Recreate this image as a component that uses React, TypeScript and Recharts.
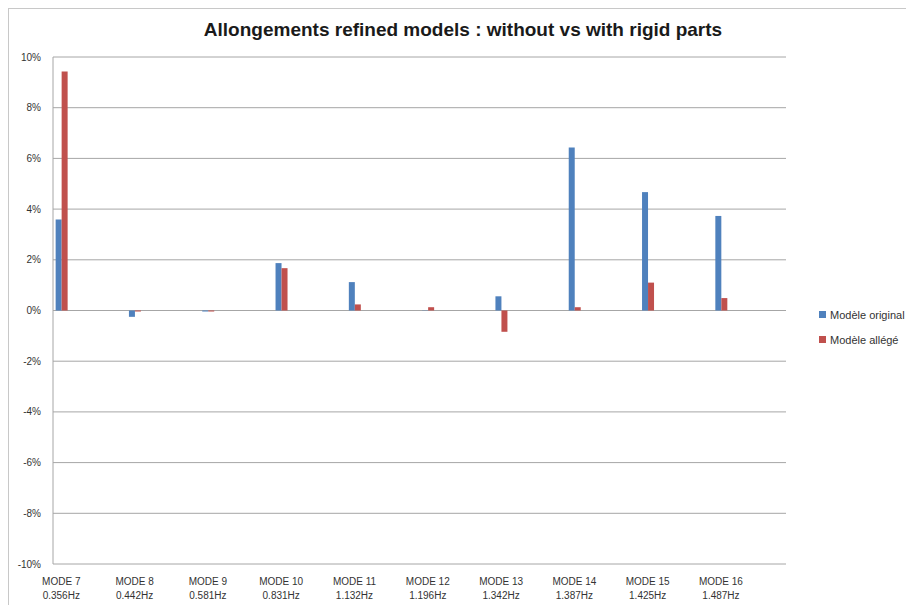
import React from 'react';
import { BarChart, Bar, XAxis, YAxis, CartesianGrid } from 'recharts';

const modes = ['MODE 7', 'MODE 8', 'MODE 9', 'MODE 10', 'MODE 11', 'MODE 12', 'MODE 13', 'MODE 14', 'MODE 15', 'MODE 16'];
const freqs = ['0.356Hz', '0.442Hz', '0.581Hz', '0.831Hz', '1.132Hz', '1.196Hz', '1.342Hz', '1.387Hz', '1.425Hz', '1.487Hz'];
const original = [0.0359, -0.0025, -0.0004, 0.0187, 0.0112, 0.0001, 0.0056, 0.0643, 0.0467, 0.0373];
const allege = [0.0943, -0.0004, -0.0004, 0.0167, 0.0024, 0.0013, -0.0084, 0.0013, 0.011, 0.0049];
const yTicks = [-0.1, -0.08, -0.06, -0.04, -0.02, 0, 0.02, 0.04, 0.06, 0.08, 0.1];
const seriesNames = ['Modèle original', 'Modèle allégé'];
const seriesColors = ['#4F81BD', '#C0504D'];
const title = 'Allongements refined models : without vs with rigid parts';

const data = modes.map((m, i) => ({ idx: i, orig: original[i], alleg: allege[i] }));
const xTicks = modes.map((_, i) => i);

const FONT = '"Liberation Sans", Arial, sans-serif';

const XTick = (props: any) => {
  const { x, y, payload } = props;
  const i = payload.value as number;
  return (
    <g>
      <text x={x} y={y + 21} textAnchor="middle" fontSize={10} fontFamily={FONT} fill="#333">
        {modes[i]}
      </text>
      <text x={x} y={y + 34.5} textAnchor="middle" fontSize={10} fontFamily={FONT} fill="#333">
        {freqs[i]}
      </text>
    </g>
  );
};

export default function App() {
  return (
    <div
      style={{
        position: 'absolute',
        left: 8,
        top: 8,
        width: 898,
        height: 597,
        overflow: 'hidden',
        borderLeft: '1px solid #c8c8c8',
        borderTop: '1px solid #c8c8c8',
        boxSizing: 'border-box',
        background: '#fff',
        fontFamily: FONT,
      }}
    >
      <BarChart
        width={930}
        height={596}
        data={data}
        margin={{ top: 48, right: 153, bottom: 0, left: 0 }}
        barGap={0}
      >
        <CartesianGrid vertical={false} stroke="#a6a6a6" />
        <XAxis
          dataKey="idx"
          type="number"
          domain={[-0.113, 9.887]}
          ticks={xTicks}
          allowDataOverflow
          axisLine={false}
          tickLine={false}
          tickSize={0}
          tickMargin={0}
          height={41}
          interval={0}
          tick={<XTick />}
        />
        <YAxis
          domain={[-0.1, 0.1]}
          ticks={yTicks}
          allowDataOverflow
          width={44}
          axisLine={{ stroke: '#a6a6a6' }}
          tickLine={false}
          tickSize={0}
          tickMargin={12}
          interval={0}
          tick={{ fontSize: 10, fill: '#333', fontFamily: FONT }}
          tickFormatter={(v: number) => `${Math.round(v * 100)}%`}
        />
        <Bar dataKey="orig" name={seriesNames[0]} fill={seriesColors[0]} barSize={6} isAnimationActive={false} />
        <Bar dataKey="alleg" name={seriesNames[1]} fill={seriesColors[1]} barSize={6} isAnimationActive={false} />
      </BarChart>
      <div
        style={{
          position: 'absolute',
          left: 0,
          top: 9.5,
          width: 908,
          textAlign: 'center',
          fontSize: 19,
          fontWeight: 'bold',
          color: '#1a1a1a',
          whiteSpace: 'nowrap',
          lineHeight: 'normal',
        }}
      >
        {title}
      </div>
      {seriesNames.map((n, i) => (
        <div
          key={n}
          style={{
            position: 'absolute',
            left: 810,
            top: 298.5 + i * 25,
            height: 14,
            display: 'flex',
            alignItems: 'center',
            whiteSpace: 'nowrap',
            fontSize: 11,
            color: '#333',
          }}
        >
          <span style={{ display: 'inline-block', width: 7, height: 7, background: seriesColors[i], marginRight: 4 }} />
          <span>{n}</span>
        </div>
      ))}
    </div>
  );
}
